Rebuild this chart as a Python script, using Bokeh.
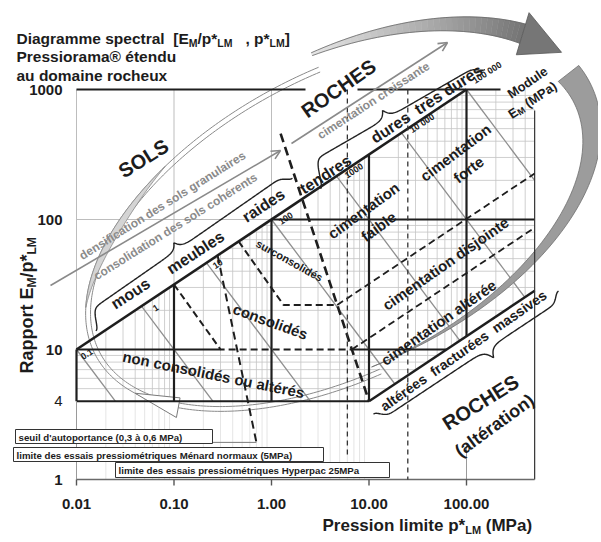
import numpy as np
from bokeh.plotting import figure
from bokeh.models import Range1d, Label, Arrow, OpenHead
from bokeh.embed import file_html
from bokeh.resources import INLINE

FONT = "Liberation Sans"
NB = "\u00a0"

# ---------------- values ----------------
x_ticks = [0.01, 0.1, 1.0, 10.0, 100.0]
x_tick_labels = ["0.01", "0.10", "1.00", "10.00", "100.00"]
y_ticks = [1, 4, 10, 100, 1000]
y_tick_labels = ["1", "4", "10", "100", "1000"]

p_lo, p_hi = 0.01, 500.0          # pression limite span of the diagram (MPa)
r_lo, r_hi = 1.0, 1000.0          # E_M / p*_LM span

modules = [0.1, 1, 10, 100, 1000, 10000, 100000]
module_labels = ["0.1", "1", "10", "100", "1000", "10 000", "100 000"]

# main soil/rock line  E/p = 100 * p^0.5 ; altered-rock line E/p = 4 * (p/10)^0.5
main_coef, main_exp = 100.0, 0.5
alt_coef, alt_p0, alt_exp = 4.0, 10.0, 0.5

# dashed boundaries (p*_LM, E_M/p*_LM)
sols_roches_p, sols_roches_r = [1.24, 10.0], [458.0, 4.0]
surconsol_p, surconsol_r = [0.46, 1.33, 4.72], [67.8, 22.0, 22.0]
consol_p, consol_r = [0.1, 0.3, 6.68], [31.6, 10.0, 10.0]
seuil_p, seuil_r = [0.28, 0.70], [53.0, 1.93]
disjointe_p, disjointe_r = [4.72, 500.0], [22.0, 226.0]
alteree_p, alteree_r = [6.68, 500.0], [10.0, 86.5]
limite_menard = 6.0
limite_hyperpac = 25.0

band_labels = ["mous", "meubles", "raides", "tendres", "dures", "très dures"]


# ---------------- helpers ----------------
def X(px):  # picture pixel -> data x
    return 10 ** ((px - 76.0) / 97.5 - 2.0)


def Y(py):  # picture pixel -> data y
    return 10 ** (3.0 - (py - 89.0) / 130.0)


def main_line(p):
    return main_coef * np.asarray(p, float) ** main_exp


def alt_line(p):
    return alt_coef * (np.asarray(p, float) / alt_p0) ** alt_exp


def alt_inv(r):
    return alt_p0 * (r / alt_coef) ** (1.0 / alt_exp)


W = {' ': 278, NB: 278, '(': 333, ')': 333, '*': 389, '/': 278, ',': 278, '.': 278, '[': 333,
     ']': 333, "'": 238, '®': 737, 'A': 722, 'C': 722, 'D': 722, 'E': 667, 'H': 722, 'L': 611,
     'M': 833, 'O': 778, 'P': 667, 'R': 722, 'S': 667, 'a': 556, 'b': 611, 'c': 556, 'd': 611,
     'e': 556, 'f': 333, 'g': 611, 'h': 611, 'i': 278, 'j': 278, 'l': 278, 'm': 889, 'n': 611,
     'o': 611, 'p': 611, 'q': 611, 'r': 389, 's': 556, 't': 333, 'u': 611, 'v': 556, 'x': 556,
     'y': 556, 'é': 556, 'à': 556}


def tw(s, size):
    return sum(W.get(c, 556) for c in s) * size / 1000.0


p = figure(width=598, height=540, x_axis_type="log", y_axis_type="log",
           x_range=Range1d(X(0), X(598)), y_range=Range1d(Y(540), Y(0)),
           x_axis_location=None, y_axis_location=None,
           toolbar_location=None, output_backend="svg", min_border=0)
p.outline_line_color = None
p.grid.grid_line_color = None
p.background_fill_color = "white"


def lab(px, py, text, size, angle=0.0, color="#1c1c1c", style="bold",
        align="center", baseline="middle"):
    p.add_layout(Label(x=X(px), y=Y(py), text=text, angle=angle, angle_units="deg",
                       text_font=FONT, text_font_size=f"{size}px", text_font_style=style,
                       text_color=color, text_align=align, text_baseline=baseline))


def chain(px, py, pieces, angle=0.0, color="#1c1c1c"):
    """pieces laid along one line; (px, py) is the start of the line's middle"""
    a = np.radians(angle)
    d = np.array([np.cos(a), -np.sin(a)])
    n = np.array([np.sin(a), np.cos(a)])
    pos = 0.0
    for text, size, shift in pieces:
        x0 = px + d[0] * pos + n[0] * shift
        y0 = py + d[1] * pos + n[1] * shift
        lab(x0, y0, text, size, angle, color=color, align="left", baseline="middle")
        pos += tw(text, size)


def to_data(px, py):
    return [X(v) for v in px], [Y(v) for v in py]


# ---------------- light grid ----------------
vals = sorted({round(k * 10.0 ** d, 6) for d in range(-2, 3) for k in range(1, 10)})
decades = [0.01, 0.1, 1.0, 10.0, 100.0]
gxs, gys, lxs, lys = [], [], [], []
for v in vals:
    if v <= p_lo or v >= p_hi or v in decades:
        continue
    bottom = 4.0 if v <= 10 else float(alt_line(v))
    top = min(r_hi, float(main_line(v)))
    gxs.append([v, v]); gys.append([bottom, top])
    if v <= 10:
        lxs.append([v, v]); lys.append([r_lo, 4.0])
for r in vals:
    if r <= 4 or r >= 1000 or r in (10.0, 100.0):
        continue
    left = max(p_lo, (r / main_coef) ** (1 / main_exp))
    right = min(p_hi, alt_inv(r))
    gxs.append([left, right]); gys.append([r, r])
p.multi_line(lxs, lys, line_color="#dedede", line_width=0.8)
p.multi_line(gxs, gys, line_color="#c4c4c4", line_width=0.8)

# faint majors above the main line
p.multi_line([[0.01, 0.01], [0.1, 0.1], [1, 1], [0.01, 1]],
             [[10, 1000], [float(main_line(0.1)), 1000], [100, 1000], [100, 100]],
             line_color="#bdbdbd", line_width=1.0)

# ---------------- modulus lines E_M = const ----------------
exs, eys = [], []
for E in modules:
    p0 = (E / main_coef) ** (1.0 / (1.0 + main_exp))
    if E / 4.0 <= alt_p0:
        p1 = E / 4.0
    else:
        p1 = (E * alt_p0 ** alt_exp / alt_coef) ** (1.0 / (1.0 + alt_exp))
    p1 = min(p1, p_hi)
    exs.append([p0, p1]); eys.append([E / p0, E / p1])
p.multi_line(exs, eys, line_color="#8e8e8e", line_width=1.3)

# ---------------- big grey cycle (ellipse arrows) ----------------
EC = (345.0, 222.0)
EA, EB, EPHI = 283.0, 152.0, np.radians(28.0)
U = np.array([np.cos(EPHI), -np.sin(EPHI)])
V = np.array([-np.sin(EPHI), -np.cos(EPHI)])


def ell(t_deg, da=0.0, db=0.0):
    t = np.radians(np.asarray(t_deg, float))
    x = EC[0] + (EA + da) * np.cos(t) * U[0] + (EB + db) * np.sin(t) * V[0]
    y = EC[1] + (EA + da) * np.cos(t) * U[1] + (EB + db) * np.sin(t) * V[1]
    return x, y


# thin double outline on the left and bottom
tt = np.linspace(80, 262, 220)
for off in (0.0, -5.0):
    ex, ey = ell(tt, off, off)
    xs, ys = to_data(ex, ey)
    p.line(xs, ys, line_color="#8a8a8a", line_width=1.0)

# left shaded crescent
tl = np.linspace(118, 162, 40)
wl = 7.0 * np.sin(np.pi * (tl - 118) / 44.0)
ox, oy = ell(tl)
ix, iy = ell(tl[::-1], -wl[::-1], -wl[::-1])
xs, ys = to_data(np.r_[ox, ix], np.r_[oy, iy])
p.patch(xs, ys, fill_color="#d4d4d4", line_color="#8a8a8a", line_width=0.8)

# top arrow (gradient body + head)
ta = np.linspace(80, 30, 36)
cx, cy = ell(ta, 0, 15)
tx, ty = np.gradient(cx), np.gradient(cy)
nl = np.hypot(tx, ty)
nx, ny = -ty / nl, tx / nl
wa = 3.0 + 17.0 * (80 - ta) / 50.0
qx, qy, qc = [], [], []
for i in range(len(ta) - 1):
    px4 = [cx[i] + nx[i] * wa[i] / 2, cx[i + 1] + nx[i + 1] * wa[i + 1] / 2,
           cx[i + 1] - nx[i + 1] * wa[i + 1] / 2, cx[i] - nx[i] * wa[i] / 2]
    py4 = [cy[i] + ny[i] * wa[i] / 2, cy[i + 1] + ny[i + 1] * wa[i + 1] / 2,
           cy[i + 1] - ny[i + 1] * wa[i + 1] / 2, cy[i] - ny[i] * wa[i] / 2]
    a, b = to_data(px4, py4)
    qx.append(a); qy.append(b)
    g = int(228 - 110 * i / (len(ta) - 2))
    qc.append(f"#{g:02x}{g:02x}{g:02x}")
p.patches(qx, qy, fill_color=qc, line_color=qc, line_width=0.5)
for sgn in (1, -1):
    xs, ys = to_data(cx + sgn * nx * wa / 2, cy + sgn * ny * wa / 2)
    p.line(xs, ys, line_color="#666666", line_width=0.8)
bx0, by0 = cx[-1], cy[-1]
tipx, tipy = ell(17, 0, 15)
hx = [bx0 + nx[-1] * 22, float(tipx), bx0 - nx[-1] * 22]
hy = [by0 + ny[-1] * 22, float(tipy), by0 - ny[-1] * 22]
xs, ys = to_data(hx, hy)
p.patch(xs, ys, fill_color="#767676", line_color="#555555", line_width=0.8)

# right crescent
tr = np.linspace(10, -100, 70)
wr = 26.0 * ((tr + 100) / 110.0) ** 1.3
ix, iy = ell(tr, -25, -10)
ox, oy = ell(tr[::-1], -25 + wr[::-1], -10 + wr[::-1])
xs, ys = to_data(np.r_[ix, ox], np.r_[iy, oy])
p.patch(xs, ys, fill_color="#9c9c9c", line_color="#6e6e6e", line_width=0.8)

# hollow arrow head on the bottom-left of the cycle
hb = np.linspace(-147, -145, 3)
bx, by = ell(hb)
dx, dy = bx[-1] - bx[0], by[-1] - by[0]
dl = np.hypot(dx, dy)
nnx, nny = -dy / dl, dx / dl
tpx, tpy = ell(-160)
xs, ys = to_data([bx[1] + nnx * 10, float(tpx), bx[1] - nnx * 10],
                 [by[1] + nny * 10, float(tpy), by[1] - nny * 10])
p.patch(xs, ys, fill_color="white", line_color="#7a7a7a", line_width=1.0)

# ---------------- structure lines ----------------
BOLD = "#1e1e1e"
sx = [[0.01, X(305)], [X(357), X(500)], [1, p_hi], [0.01, 10], [0.01, 0.3], [6.68, alt_inv(10.0)],
      [0.01, 0.01], [0.1, 0.1], [1, 1], [10, 10], [100, 100]]
sy = [[1000, 1000], [1000, 1000], [100, 100], [4, 4], [10, 10], [10, 10],
      [4, 10], [4, float(main_line(0.1))], [4, 100], [4, float(main_line(10))],
      [float(alt_line(100)), 1000]]
p.multi_line(sx, sy, line_color=BOLD, line_width=2.2)
p.line([0.01, 100], [float(main_line(0.01)), float(main_line(100))], line_color=BOLD, line_width=2.6)
p.line([alt_p0, p_hi], [float(alt_line(alt_p0)), float(alt_line(p_hi))], line_color=BOLD, line_width=2.4)
# right edge, bottom axis, left axis
p.line([p_hi, p_hi], [r_lo, Y(110)], line_color="#333333", line_width=1.2)
p.line([100, 100], [r_lo, Y(445)], line_color="#9a9a9a", line_width=1.0)
p.line([p_lo, p_hi], [r_lo, r_lo], line_color="#6a6a6a", line_width=1.6)
p.line([p_lo, p_lo], [r_lo, 4], line_color="#9a9a9a", line_width=1.0)
p.multi_line([[v, v] for v in x_ticks], [[r_lo, Y(485)] for _ in x_ticks],
             line_color="#555555", line_width=1.4)

# ---------------- dashed boundaries ----------------
p.line(sols_roches_p, sols_roches_r, line_color=BOLD, line_width=2.6, line_dash="9 5")
p.line(surconsol_p, surconsol_r, line_color=BOLD, line_width=2.0, line_dash="7 4")
p.line(consol_p, consol_r, line_color=BOLD, line_width=2.0, line_dash="7 4")
p.line(seuil_p, seuil_r, line_color=BOLD, line_width=2.0, line_dash="8 5")
p.line(disjointe_p, disjointe_r, line_color=BOLD, line_width=1.8, line_dash="7 4")
p.line(alteree_p, alteree_r, line_color=BOLD, line_width=1.8, line_dash="7 4")
p.line([limite_menard, limite_menard], [1000, Y(458)], line_color="#333333",
       line_width=1.3, line_dash="5 4")
p.line([limite_hyperpac, limite_hyperpac], [1000, r_lo], line_color="#333333",
       line_width=1.3, line_dash="5 4")
p.line([X(212), seuil_p[1]], [seuil_r[1], seuil_r[1]], line_color="#7a7a7a", line_width=1.0)


# ---------------- braces ----------------
def brace(A, B, s_tip, h_tip, h_a, h_b, n_pts=260):
    A = np.array(A, float); B = np.array(B, float)
    L = np.hypot(*(B - A)); d = (B - A) / L
    nrm = np.array([d[1], -d[0]])
    if nrm[1] > 0:
        nrm = -nrm
    s = np.linspace(0, L, n_pts)
    off = (h_tip * np.exp(-np.abs(s - s_tip * L) / 4.0)
           + h_a * np.exp(-(s / 8.0) ** 2) + h_b * np.exp(-((L - s) / 8.0) ** 2))
    return to_data(A[0] + s * d[0] + off * nrm[0], A[1] + s * d[1] + off * nrm[1])


for args in [((84, 314), (288, 172), 0.46, 8, -20, -7),
             ((306, 164), (481, 63), 0.46, 9, -28, -7),
             ((378, 421), (563, 298), 0.59, -11, 9, 9)]:
    xs, ys = brace(*args)
    p.line(xs, ys, line_color="#222222", line_width=1.4)

# ---------------- grey trend arrows ----------------
for (x0, y0, x1, y1) in [(50, 285, 280, 150), (291, 143, 447, 42)]:
    p.add_layout(Arrow(end=OpenHead(size=9, line_color="#8a8a8a", line_width=1.6),
                       x_start=X(x0), y_start=Y(y0), x_end=X(x1), y_end=Y(y1),
                       line_color="#8a8a8a", line_width=1.6))

# ---------------- boxes of the limits ----------------
box_texts = ["seuil d'autoportance (0,3 à 0,6 MPa)",
             "limite des essais pressiométriques Ménard normaux (5MPa)",
             "limite des essais pressiométriques Hyperpac 25MPa"]
box_px = [(15, 212, 429, 443), (13, 323, 447, 461), (115, 389, 462, 477)]
p.quad(left=[X(b[0]) for b in box_px], right=[X(b[1]) for b in box_px],
       top=[Y(b[2]) for b in box_px], bottom=[Y(b[3]) for b in box_px],
       fill_color="white", line_color="#333333", line_width=1.0)
for txt, b in zip(box_texts, box_px):
    lab(b[0] + 3, (b[2] + b[3]) / 2 + 0.5, txt, 9.7, align="left")

# ---------------- tick labels ----------------
for v, t in zip(x_ticks, x_tick_labels):
    p.add_layout(Label(x=v, y=Y(503), text=t, text_font=FONT, text_font_size="15px",
                       text_font_style="bold", text_color="#1c1c1c",
                       text_align="center", text_baseline="middle"))
for v, t in zip(y_ticks, y_tick_labels):
    p.add_layout(Label(x=X(62), y=v, text=t, text_font=FONT, text_font_size="15px",
                       text_font_style="normal" if t == "4" else "bold", text_color="#1c1c1c",
                       text_align="right", text_baseline="middle"))

# ---------------- titles ----------------
chain(16, 37.5, [("Diagramme spectral" + NB + NB + "[E", 15.5, 0), ("M", 10.5, 4.5),
                 ("/p*", 15.5, 0), ("LM", 10.5, 4.5), (NB + NB + NB + ", p*", 15.5, 0),
                 ("LM", 10.5, 4.5), ("]", 15.5, 0)])
lab(16, 56, "Pressiorama® étendu", 15.5, align="left")
lab(16, 74.5, "au domaine rocheux", 15.5, align="left")
chain(322, 525, [("Pression limite p*", 17, 0), ("LM", 11, 4), (NB + "(MPa)", 17, 0)])
chain(26.5, 373, [("Rapport E", 18, 0), ("M", 12, 5), ("/p*", 18, 0), ("LM", 12, 5)], angle=90)

# ---------------- labels on the diagram ----------------
band_pos = [(130, 293), (195, 252), (263, 205), (325, 174), (390, 127), (448, 89)]
for t, (x0, y0) in zip(band_labels, band_pos):
    lab(x0, y0, t, 16, 33)

mod_off = [(5, 8), (12, 3), (7, 4), (8, 3), (9, 0), (9, -2), (7, -8)]
for E, t, (dx, dy) in zip(modules, module_labels, mod_off):
    p0 = (E / main_coef) ** (1.0 / (1.0 + main_exp))
    p.add_layout(Label(x=p0, y=E / p0, text=t, angle=33, angle_units="deg",
                       x_offset=dx, y_offset=-dy, text_font=FONT, text_font_size="9px",
                       text_font_style="bold", text_color="#1c1c1c",
                       text_align="left", text_baseline="middle"))

GREY = "#8a8a8a"
lab(162, 205, "densification des sols granulaires", 12, 32, color=GREY)
lab(175, 226, "consolidation des sols cohérents", 12, 32, color=GREY)
lab(373, 100, "cimentation croissante", 12, 33, color=GREY)

lab(143, 158, "SOLS", 20, 32)
lab(338, 88, "ROCHES", 20, 35)
lab(289, 260, "surconsolidés", 11, -29)
lab(270, 321, "consolidés", 15, -20)
lab(213, 374, "non consolidés ou altérés", 15, -11.5)
lab(363, 210, "cimentation", 15, 36)
lab(378, 226, "faible", 15, 36)
lab(455, 152, "cimentation", 15, 37)
lab(468, 169, "forte", 15, 37)
lab(445, 263, "cimentation disjointe", 15, 35)
lab(438, 322, "cimentation altérée", 15, 35)
lab(463, 350, "altérées" + NB + NB + "fracturées" + NB + NB + "massives", 14, 35)
lab(480, 402, "ROCHES", 20, 32)
lab(494, 425, "(altération)", 18, 36)
lab(527, 82, "Module", 13, 34)
chain(509, 115, [("E", 13, 0), ("M", 9, 3), (NB + "(MPa)", 13, 0)], angle=34)

open("out.html", "w").write(file_html(p, INLINE))
